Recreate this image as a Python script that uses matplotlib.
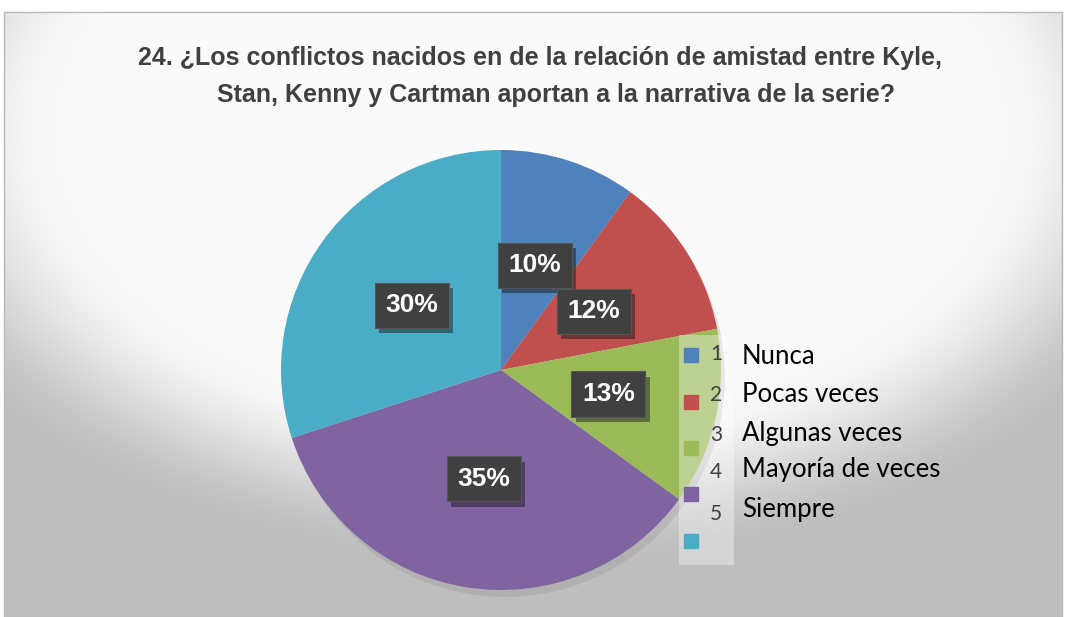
import matplotlib.pyplot as plt
import numpy as np
from matplotlib.patches import Rectangle, Circle
import matplotlib.patheffects as pe

# data
categorias = ['Nunca', 'Pocas veces', 'Algunas veces', 'Mayoría de veces', 'Siempre']
numeros = ['1', '2', '3', '4', '5']
porcentajes = [10, 12, 13, 35, 30]
colores = ['#4f81bd', '#c0504d', '#9bbb59', '#8064a2', '#4bacc6']
titulo = ['24. ¿Los conflictos nacidos en de la relación de amistad entre Kyle,',
          'Stan, Kenny y Cartman aportan a la narrativa de la serie?']

W, H = 1065, 617
fig = plt.figure(figsize=(W / 100, H / 100), dpi=100)
ax = fig.add_axes([0, 0, 1, 1])
ax.set_xlim(0, W)
ax.set_ylim(0, H)
ax.set_aspect('equal')
ax.axis('off')

# background: frame with light radial glow over a grey gradient
x0, x1, ytop = 4, 1062, 12
xx, yy = np.meshgrid(np.arange(x0, x1), np.arange(ytop, H))
d = np.sqrt(((xx - 530) / 640) ** 2 + ((yy - 130) / 400) ** 2)
t = np.clip((d - 0.72) / 0.38, 0, 1)
t = t * t * (3 - 2 * t)
g = (250 - 60 * t) / 255
img = np.dstack([g, g, g])
ax.imshow(img, extent=[x0, x1, 0, H - ytop], origin='upper', zorder=0)
ax.add_patch(Rectangle((x0, 0), x1 - x0, H - ytop, fill=False, ec='#b8b8b8', lw=1, zorder=1))

# pie
cx, cy, R = 501, H - 370, 220
ax.add_patch(Circle((cx + 4, cy - 7), R, fc='#8a8a8a', ec='none', alpha=0.25, zorder=1.5))
wedges, _, autotexts = ax.pie(porcentajes, colors=colores, startangle=90, counterclock=False,
                              center=(cx, cy), radius=R, autopct='%1.0f%%', pctdistance=0.5,
                              wedgeprops=dict(linewidth=0, zorder=2),
                              textprops=dict(color='white', fontsize=19, fontweight='bold',
                                             family='Liberation Sans'))
for a in autotexts:
    a.set_zorder(5)
    a.set_bbox(dict(boxstyle='square,pad=0.4', fc='#404040', ec='#555555', lw=0.8))
    a.get_bbox_patch().set_path_effects([pe.SimplePatchShadow(offset=(3, -4), alpha=0.45), pe.Normal()])
ax.set_xlim(0, W)
ax.set_ylim(0, H)

# legend (manual layout)
ax.add_patch(Rectangle((679, H - 565), 55, 230, fc='white', alpha=0.35, ec='none', zorder=3))
marker_y = [355, 402, 448, 494, 541]
num_y = [354, 395, 435, 472, 514]
lab_y = [356, 394, 433, 470, 509]
for i, cat in enumerate(categorias):
    ax.scatter([691], [H - marker_y[i]], marker='s', s=110, color=colores[i], zorder=4)
    ax.text(710, H - num_y[i], numeros[i], fontsize=15, color='#404040', family='Lato',
            ha='left', va='center', zorder=4)
    ax.text(742, H - lab_y[i], cat, fontsize=18.5, color='black', family='Lato',
            ha='left', va='center', zorder=4)

# title (second line sits a bit to the right, as in the original)
ax.text(540, H - 58, titulo[0], fontsize=18, fontweight='bold', color='#404040', ha='center',
        va='center', family='Liberation Sans', zorder=4)
ax.text(556, H - 95, titulo[1], fontsize=18, fontweight='bold', color='#404040', ha='center',
        va='center', family='Liberation Sans', zorder=4)

fig.savefig('out.png', dpi=100)
